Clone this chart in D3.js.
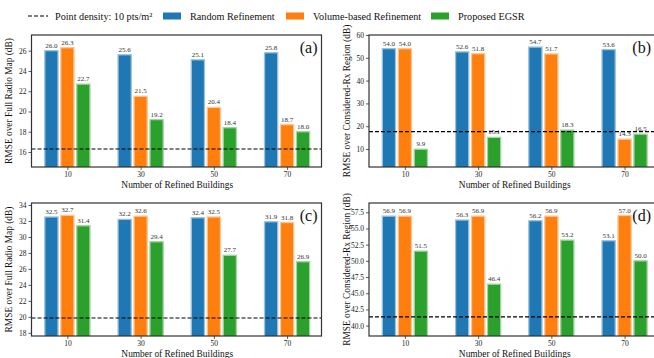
<!DOCTYPE html>
<html>
<head>
<meta charset="utf-8">
<script src="https://cdn.jsdelivr.net/npm/d3@7"></script>
<style>
  body { margin: 0; background: #fff; }
  svg text { font-family: "Liberation Serif", "Times New Roman", "DejaVu Serif", serif !important; }
</style>
</head>
<body>
<script>
// Categories and series
const buildings = ["10", "30", "50", "70"];
const seriesNames = ["Random Refinement", "Volume-based Refinement", "Proposed EGSR"];
const colors = ["#1f77b4", "#ff7f0e", "#2ca02c"];

// (a) RMSE over full radio map, 10 pts/m2 case
const randomA = [26.0, 25.6, 25.1, 25.8];
const volumeA = [26.3, 21.5, 20.4, 18.7];
const egsrA   = [22.7, 19.2, 18.4, 18.0];
const densityA = 16.3;

// (b) RMSE over considered-Rx region
const randomB = [54.0, 52.6, 54.7, 53.6];
const volumeB = [54.0, 51.8, 51.7, 14.3];
const egsrB   = [9.9, 15.1, 18.3, 16.5];
const densityB = 17.6;

// (c) RMSE over full radio map
const randomC = [32.5, 32.2, 32.4, 31.9];
const volumeC = [32.7, 32.6, 32.5, 31.8];
const egsrC   = [31.4, 29.4, 27.7, 26.9];
const densityC = 19.85;

// (d) RMSE over considered-Rx region
const randomD = [56.9, 56.3, 56.2, 53.1];
const volumeD = [56.9, 56.9, 56.9, 57.0];
const egsrD   = [51.5, 46.4, 53.2, 50.0];
const densityD = 41.35;

// y tick labels
const ticksA = [16, 18, 20, 22, 24, 26];
const ticksB = [10, 20, 30, 40, 50, 60];
const ticksC = [18, 20, 22, 24, 26, 28, 30, 32, 34];
const ticksD = [40.0, 42.5, 45.0, 47.5, 50.0, 52.5, 55.0, 57.5];

const width = 654, height = 358;
const serif = "'Liberation Serif', 'Times New Roman', serif";

const svg = d3.select("body").append("svg")
    .attr("width", width)
    .attr("height", height)
    .attr("font-family", serif);

const panels = [
  {tag: "(a)", series: [randomA, volumeA, egsrA], density: densityA, ticks: ticksA, fmt: d3.format("d"),
   yDomain: [14.52, 27.55], left: 31.5, top: 35, w: 290, h: 132, ylabel: "RMSE over Full Radio Map (dB)"},
  {tag: "(b)", series: [randomB, volumeB, egsrB], density: densityB, ticks: ticksB, fmt: d3.format("d"),
   yDomain: [2.1, 60], left: 369, top: 35, w: 290, h: 132, ylabel: "RMSE over Considered-Rx Region (dB)"},
  {tag: "(c)", series: [randomC, volumeC, egsrC], density: densityC, ticks: ticksC, fmt: d3.format("d"),
   yDomain: [17.6, 34.25], left: 31.5, top: 203, w: 290, h: 133, ylabel: "RMSE over Full Radio Map (dB)"},
  {tag: "(d)", series: [randomD, volumeD, egsrD], density: densityD, ticks: ticksD, fmt: d3.format(".1f"),
   yDomain: [38.4, 58.93], left: 369, top: 203, w: 290, h: 133, ylabel: "RMSE over Considered-Rx Region (dB)"}
];

panels.forEach(p => {
  const g = svg.append("g").attr("transform", `translate(${p.left},${p.top})`);

  const x = d3.scaleLinear().domain([-0.49, 3.47]).range([0, p.w]);
  const y = d3.scaleLinear().domain(p.yDomain).range([p.h, 0]);

  const clipId = "clip" + p.tag.replace(/\W/g, "");
  g.append("clipPath").attr("id", clipId)
    .append("rect").attr("width", p.w).attr("height", p.h);

  const plot = g.append("g").attr("clip-path", `url(#${clipId})`);

  const offset = 0.218, bw = 0.18;
  p.series.forEach((vals, si) => {
    const light = d3.interpolateRgb(colors[si], "#fff")(0.55);
    plot.selectAll(null)
      .data(vals)
      .enter()
      .append("rect")
      .attr("x", (d, i) => x(i + (si - 1) * offset - bw / 2))
      .attr("y", d => y(d))
      .attr("width", x(bw) - x(0))
      .attr("height", d => y(p.yDomain[0]) - y(d) + 5)
      .attr("fill", colors[si])
      .attr("stroke", light)
      .attr("stroke-width", 1.3);

    g.selectAll(null)
      .data(vals)
      .enter()
      .append("text")
      .attr("x", (d, i) => x(i + (si - 1) * offset))
      .attr("y", d => y(d) - 3)
      .attr("text-anchor", "middle")
      .attr("font-size", 7)
      .attr("fill", "#333")
      .text(d => d.toFixed(1));
  });

  // density reference line
  plot.append("line")
    .attr("x1", 0).attr("x2", p.w)
    .attr("y1", y(p.density)).attr("y2", y(p.density))
    .attr("stroke", "#000")
    .attr("stroke-width", 1.1)
    .attr("stroke-dasharray", "4,2");

  // axes
  const yAxis = g.append("g")
    .call(d3.axisLeft(y).tickValues(p.ticks).tickFormat(p.fmt).tickSize(3).tickPadding(2));
  const xAxis = g.append("g")
    .attr("transform", `translate(0,${p.h})`)
    .call(d3.axisBottom(x).tickValues([0, 1, 2, 3]).tickFormat(i => buildings[i]).tickSize(3).tickPadding(2));
  [yAxis, xAxis].forEach(a => {
    a.attr("font-family", serif);
    a.select(".domain").remove();
    a.selectAll("line").attr("stroke", "#333").attr("stroke-width", 0.8);
    a.selectAll("text").attr("font-size", 7.5).attr("fill", "#222");
  });

  // frame
  g.append("rect")
    .attr("width", p.w).attr("height", p.h)
    .attr("fill", "none")
    .attr("stroke", "#333")
    .attr("stroke-width", 1.2);

  g.append("text")
    .attr("x", Math.min(p.w - 4, width - p.left - 3))
    .attr("y", 18)
    .attr("text-anchor", "end")
    .attr("font-size", 16)
    .attr("fill", "#111")
    .text(p.tag);

  g.append("text")
    .attr("x", (x(0) + x(3)) / 2)
    .attr("y", p.h + 21)
    .attr("text-anchor", "middle")
    .attr("font-size", 9.4)
    .attr("fill", "#111")
    .text("Number of Refined Buildings");

  g.append("text")
    .attr("transform", `translate(${-19.5},${p.h / 2}) rotate(-90)`)
    .attr("text-anchor", "middle")
    .attr("font-size", 9.4)
    .attr("fill", "#111")
    .text(p.ylabel);
});

// legend
const legend = svg.append("g").attr("transform", "translate(0,16)");
legend.append("line")
  .attr("x1", 28).attr("x2", 48).attr("y1", 0).attr("y2", 0)
  .attr("stroke", "#000").attr("stroke-width", 1.2).attr("stroke-dasharray", "4,2");
legend.append("text")
  .attr("x", 55).attr("y", 3.5).attr("font-size", 10.2).attr("fill", "#111")
  .text("Point density: 10 pts/m²");

const legendX = [163, 286, 431];
seriesNames.forEach((name, i) => {
  legend.append("rect")
    .attr("x", legendX[i]).attr("y", -3.5)
    .attr("width", 18).attr("height", 7)
    .attr("fill", colors[i]);
  legend.append("text")
    .attr("x", legendX[i] + 27).attr("y", 3.5)
    .attr("font-size", 10.2).attr("fill", "#111")
    .text(name);
});
</script>
</body>
</html>
